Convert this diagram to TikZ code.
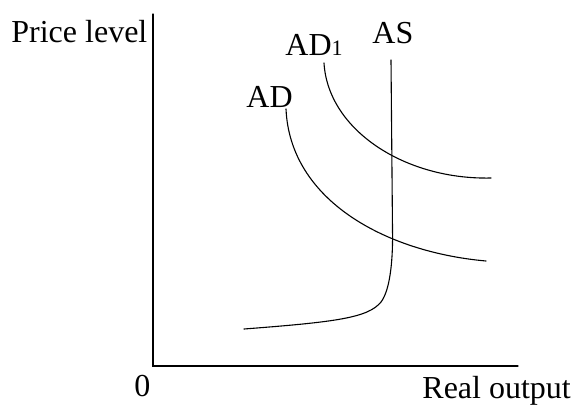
\documentclass[tikz,border=0pt]{standalone}
\usepackage{fontspec}
\setmainfont{Liberation Serif}
\tikzset{
  lbl/.style={inner sep=0pt, anchor=base west, font=\fontsize{16}{19}\selectfont},
  curve/.style={line width=0.55pt}
}
\begin{document}
\begin{tikzpicture}[x=0.5pt, y=-0.5pt, line cap=round]
\useasboundingbox (0,0) rectangle (572,412);
% 坐标轴
\coordinate (top) at (153,14);
\coordinate (O) at (153,366);
\coordinate (right) at (518,366);
\draw[line width=0.65pt] (top) -- (O) -- (right);
\node[lbl] (ylab) at (11,42) {Price level};
\node[lbl] (zero) at (134,396) {0};
\node[lbl] (xlab) at (422,398) {Real output};
% 总供给曲线 AS
\draw[curve] (244,329) .. controls (335,322) and (368,318) .. (381,302)
  .. controls (391,289) and (393,255) .. (392.5,230) -- (391,60);
\node[lbl] (as) at (372,43) {AS};
% 总需求曲线 AD 与 AD1
\draw[curve] (286,109) .. controls (290,200) and (385,252) .. (486,261);
\node[lbl] (ad) at (246,107) {AD};
\draw[curve] (324,63) .. controls (328,130) and (405,180) .. (491,178);
\node[lbl] (adone) at (285,55) {AD{\fontsize{11}{13}\selectfont 1}};
\end{tikzpicture}
\end{document}
